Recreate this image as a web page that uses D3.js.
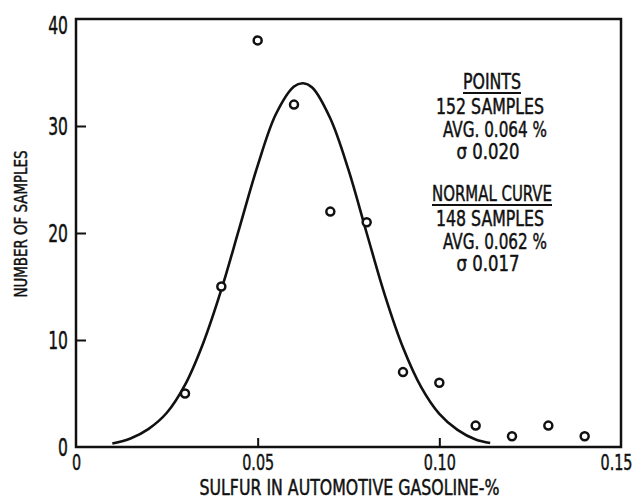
<!DOCTYPE html>
<html>
<head>
<meta charset="utf-8">
<script src="https://cdn.jsdelivr.net/npm/d3@7"></script>
<style>
  body { margin: 0; background: #fff; }
  svg { display: block; }
  text { font-family: "DejaVu Sans Condensed", "DejaVu Sans", sans-serif; fill: #111; stroke: #111; stroke-width: 0.45px; }
</style>
</head>
<body>
<div id="chart"></div>
<script>
// measured points (sulfur %, number of samples)
const sulfur = [0.03, 0.04, 0.05, 0.06, 0.07, 0.08, 0.09, 0.10, 0.11, 0.12, 0.13, 0.14];
const counts = [5, 15, 38, 32, 22, 21, 7, 6, 2, 1, 2, 1];

// normal curve
const curveX = [0.010, 0.015, 0.020, 0.025, 0.030, 0.035, 0.040, 0.045, 0.050, 0.055, 0.060, 0.0625,
                0.065, 0.070, 0.075, 0.080, 0.085, 0.090, 0.095, 0.100, 0.105, 0.110, 0.114];
const curveY = [0.33, 0.8, 1.7, 3.2, 5.8, 9.7, 14.7, 20.5, 26.3, 31.1, 33.7, 34.0,
                33.6, 30.7, 25.9, 20.0, 14.2, 9.3, 5.6, 3.1, 1.6, 0.7, 0.37];

const xTicks = [0, 0.05, 0.10, 0.15];
const xTickLabels = ["0", "0.05", "0.10", "0.15"];
const yTicks = [0, 10, 20, 30, 40];

const pointsNote = ["152 SAMPLES", "AVG. 0.064 %", "σ 0.020"];
const curveNote = ["148 SAMPLES", "AVG. 0.062 %", "σ 0.017"];

const W = 635, H = 499;
const margin = {top: 19, right: 14, bottom: 52, left: 76};

const svg = d3.select("#chart").append("svg")
  .attr("width", W).attr("height", H);

const x = d3.scaleLinear().domain([0, 0.15]).range([margin.left, W - margin.right]);
const y = d3.scaleLinear().domain([0, 40]).range([H - margin.bottom, margin.top]);

// squeeze text horizontally, the lettering is narrow
function squeeze(sel, k) {
  sel.each(function() {
    const w = this.getComputedTextLength();
    this.setAttribute("textLength", w * k);
    this.setAttribute("lengthAdjust", "spacingAndGlyphs");
  });
}

// y axis (ticks point inward)
const yAxis = svg.append("g")
  .attr("transform", `translate(${margin.left},0)`)
  .call(d3.axisLeft(y).tickValues(yTicks).tickSize(-10).tickPadding(8));
yAxis.select(".domain").remove();
yAxis.selectAll(".tick line").attr("stroke", "#111").attr("stroke-width", 2)
  .filter(d => d === 0 || d === 40).remove();
yAxis.selectAll(".tick text").attr("font-size", 24).attr("font-family", null).attr("fill", "#111")
  .attr("dy", (d) => d === 40 ? "0.62em" : "0.36em");
squeeze(yAxis.selectAll(".tick text"), 0.72);

// x axis
const xAxis = svg.append("g")
  .attr("transform", `translate(0,${H - margin.bottom})`)
  .call(d3.axisBottom(x).tickValues(xTicks).tickSize(-9).tickPadding(8)
    .tickFormat((d, i) => xTickLabels[i]));
xAxis.select(".domain").remove();
xAxis.selectAll(".tick line").attr("stroke", "#111").attr("stroke-width", 2)
  .filter(d => d === 0 || d === 0.15).remove();
xAxis.selectAll(".tick text").attr("font-size", 21).attr("font-family", null).attr("fill", "#111");
squeeze(xAxis.selectAll(".tick text").filter(d => d !== 0.15), 0.76);
// last label sits against the page edge
xAxis.selectAll(".tick text").filter(d => d === 0.15)
  .attr("text-anchor", "end").attr("y", 0)
  .attr("transform", "translate(11,8) scale(0.76,1)");

// frame
svg.append("rect")
  .attr("x", x(0)).attr("y", y(40))
  .attr("width", x(0.15) - x(0)).attr("height", y(0) - y(40))
  .attr("fill", "none").attr("stroke", "#111").attr("stroke-width", 2.5);

// normal curve
const line = d3.line()
  .x((d, i) => x(curveX[i]))
  .y(d => y(d))
  .curve(d3.curveCatmullRom);
svg.append("path")
  .datum(curveY)
  .attr("d", line)
  .attr("fill", "none").attr("stroke", "#111").attr("stroke-width", 2.6);

// sample points
svg.selectAll(".pt")
  .data(counts)
  .enter().append("circle")
  .attr("class", "pt")
  .attr("cx", (d, i) => x(sulfur[i]))
  .attr("cy", d => y(d))
  .attr("r", 4)
  .attr("fill", "#fff").attr("stroke", "#111").attr("stroke-width", 2.5);

// axis titles
const xt = svg.append("text")
  .attr("x", (x(0) + x(0.15)) / 2 + 1).attr("y", 495)
  .attr("text-anchor", "middle").attr("font-size", 21)
  .text("SULFUR IN AUTOMOTIVE GASOLINE-%");
xt.attr("textLength", 300).attr("lengthAdjust", "spacingAndGlyphs");

const yt = svg.append("text")
  .attr("transform", "translate(27,224) rotate(-90)")
  .attr("text-anchor", "middle").attr("font-size", 18)
  .text("NUMBER OF SAMPLES");
yt.attr("textLength", 147).attr("lengthAdjust", "spacingAndGlyphs");

// notes
function note(title, lines, titleY, titleW) {
  const cx = 492;
  const t = svg.append("text")
    .attr("x", cx).attr("y", titleY)
    .attr("text-anchor", "middle").attr("font-size", 21)
    .text(title);
  t.attr("textLength", titleW).attr("lengthAdjust", "spacingAndGlyphs");
  svg.append("line")
    .attr("x1", cx - titleW / 2).attr("x2", cx + titleW / 2)
    .attr("y1", titleY + 4).attr("y2", titleY + 4)
    .attr("stroke", "#111").attr("stroke-width", 1.8);
  svg.selectAll(null)
    .data(lines)
    .enter().append("text")
    .attr("x", (d, i) => cx + [-2, 3, -4][i])
    .attr("y", (d, i) => titleY + 25 + i * 22.5)
    .attr("text-anchor", "middle").attr("font-size", 21)
    .attr("textLength", (d, i) => [108, 104, 63][i])
    .attr("lengthAdjust", "spacingAndGlyphs")
    .text(d => d);
}
note("POINTS", pointsNote, 89, 58);
note("NORMAL CURVE", curveNote, 201, 120);
</script>
</body>
</html>
